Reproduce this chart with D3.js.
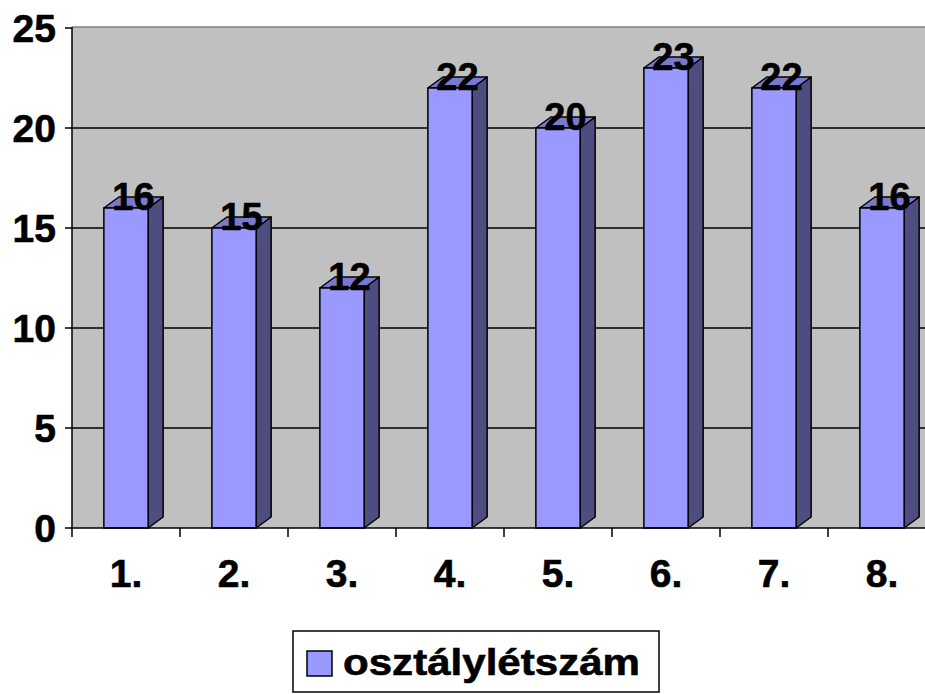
<!DOCTYPE html>
<html>
<head>
<meta charset="utf-8">
<script src="https://cdn.jsdelivr.net/npm/d3@7"></script>
<style>
  body { margin: 0; background: #fff; }
  svg { display: block; font-family: Arial, "Liberation Sans", sans-serif; font-weight: bold; }
  text { stroke: #000; stroke-width: 0.6px; }
</style>
</head>
<body>
<svg id="chart" width="925" height="694"></svg>
<script>
// adatok
const categories = ["1.", "2.", "3.", "4.", "5.", "6.", "7.", "8."];
const values = [16, 15, 12, 22, 20, 23, 22, 16];
const yTicks = [0, 5, 10, 15, 20, 25];
const seriesName = "osztálylétszám";

const svg = d3.select("#chart");

// plot terület
const plotLeft = 72, plotTop = 28, plotBottom = 528, plotRight = 936;
const depth = { dx: 15, dy: -11 };

const x = d3.scaleBand()
    .domain(categories)
    .range([plotLeft, plotRight])
    .paddingInner(0)
    .paddingOuter(0);

const y = d3.scaleLinear()
    .domain([0, 25])
    .range([plotBottom, plotTop]);

const barW = x.bandwidth() * 0.41;

// háttér
svg.append("rect")
    .attr("x", plotLeft)
    .attr("y", plotTop - 1)
    .attr("width", 925 - plotLeft)
    .attr("height", plotBottom - plotTop + 1)
    .attr("fill", "#c0c0c0");

svg.append("line")
    .attr("x1", plotLeft).attr("x2", 925)
    .attr("y1", plotTop - 1).attr("y2", plotTop - 1)
    .attr("stroke", "#808080")
    .attr("stroke-width", 1.5);

// rácsvonalak
svg.selectAll(".grid")
    .data(yTicks.filter(d => d > 0 && d < 25))
    .enter()
    .append("line")
    .attr("x1", plotLeft).attr("x2", 925)
    .attr("y1", d => y(d)).attr("y2", d => y(d))
    .attr("stroke", "#000")
    .attr("stroke-width", 1.5);

// oszlopok (3D)
const bars = svg.selectAll(".bar")
    .data(values)
    .enter()
    .append("g")
    .attr("class", "bar");

bars.each(function (d, i) {
    const g = d3.select(this);
    const x0 = x(categories[i]) + (x.bandwidth() - barW) / 2;
    const x1 = x0 + barW;
    const yt = y(d), yb = y(0);
    // oldal
    g.append("polygon")
        .attr("points", [[x1, yb], [x1 + depth.dx, yb + depth.dy], [x1 + depth.dx, yt + depth.dy], [x1, yt]].join(" "))
        .attr("fill", "#4d4d80")
        .attr("stroke", "#000")
        .attr("stroke-width", 1.5)
        .attr("stroke-linejoin", "round");
    // teteje
    g.append("polygon")
        .attr("points", [[x0, yt], [x0 + depth.dx, yt + depth.dy], [x1 + depth.dx, yt + depth.dy], [x1, yt]].join(" "))
        .attr("fill", "#7a7acc")
        .attr("stroke", "#000")
        .attr("stroke-width", 1.5)
        .attr("stroke-linejoin", "round");
    // eleje
    g.append("rect")
        .attr("x", x0)
        .attr("y", yt)
        .attr("width", barW)
        .attr("height", yb - yt)
        .attr("fill", "#9999ff")
        .attr("stroke", "#000")
        .attr("stroke-width", 1.5);
});

// tengelyek
svg.append("line")
    .attr("x1", plotLeft).attr("x2", plotLeft)
    .attr("y1", plotTop - 1).attr("y2", plotBottom)
    .attr("stroke", "#000").attr("stroke-width", 1.5);

svg.append("line")
    .attr("x1", plotLeft).attr("x2", 925)
    .attr("y1", plotBottom).attr("y2", plotBottom)
    .attr("stroke", "#000").attr("stroke-width", 1.5);

// y tengely jelölések
svg.selectAll(".ytick")
    .data(yTicks)
    .enter()
    .append("line")
    .attr("x1", plotLeft - 7).attr("x2", plotLeft)
    .attr("y1", d => y(d)).attr("y2", d => y(d))
    .attr("stroke", "#000").attr("stroke-width", 1.5);

svg.selectAll(".ylabel")
    .data(yTicks)
    .enter()
    .append("text")
    .attr("x", 56)
    .attr("y", d => y(d))
    .attr("dy", "0.36em")
    .attr("text-anchor", "end")
    .attr("font-size", 39)
    .text(d => d);

// x tengely jelölések
const xTickPos = categories.map(c => x(c));
svg.selectAll(".xtick")
    .data(xTickPos)
    .enter()
    .append("line")
    .attr("x1", d => d).attr("x2", d => d)
    .attr("y1", plotBottom).attr("y2", plotBottom + 9)
    .attr("stroke", "#000").attr("stroke-width", 1.5);

svg.selectAll(".xlabel")
    .data(categories)
    .enter()
    .append("text")
    .attr("x", d => x(d) + x.bandwidth() / 2)
    .attr("y", 587)
    .attr("text-anchor", "middle")
    .attr("font-size", 39)
    .text(d => d);

// érték feliratok
svg.selectAll(".vlabel")
    .data(values)
    .enter()
    .append("text")
    .attr("x", (d, i) => x(categories[i]) + x.bandwidth() / 2 + depth.dx / 2)
    .attr("y", d => y(d) + 2)
    .attr("text-anchor", "middle")
    .attr("font-size", 38)
    .text(d => d);

// jelmagyarázat
const legend = svg.append("g");
legend.append("rect")
    .attr("x", 293).attr("y", 631)
    .attr("width", 366).attr("height", 61)
    .attr("fill", "#fff")
    .attr("stroke", "#000").attr("stroke-width", 1.5);
legend.append("rect")
    .attr("x", 307).attr("y", 651)
    .attr("width", 25).attr("height", 25)
    .attr("fill", "#9999ff")
    .attr("stroke", "#000").attr("stroke-width", 1.5);
legend.append("text")
    .attr("x", 343).attr("y", 675)
    .attr("font-size", 37)
    .attr("textLength", 297)
    .attr("lengthAdjust", "spacingAndGlyphs")
    .text(seriesName);
</script>
</body>
</html>
